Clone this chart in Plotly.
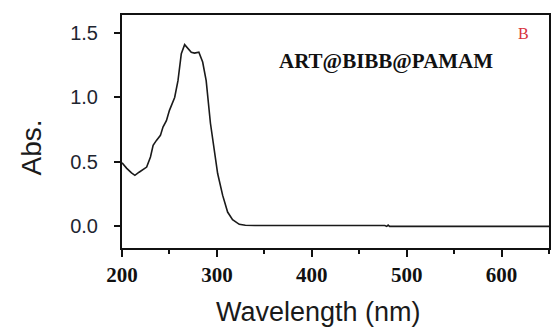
import plotly.graph_objects as go

wavelength = [200, 205, 210, 213.6, 218, 222.3, 226, 230, 232.8, 236.3, 240.5, 243.2,
              246.8, 250, 255.5, 259, 262.5, 266, 270, 273, 276.4, 281, 285, 288.7,
              293.2, 297.4, 300.8, 306.1, 311.3, 316.5, 323.6, 330, 340, 400, 470,
              477, 479, 480.5, 482, 484, 550, 650]
absorbance = [0.494, 0.45, 0.415, 0.396, 0.42, 0.44, 0.46, 0.538, 0.628, 0.667, 0.706, 0.77,
              0.82, 0.90, 1.0, 1.13, 1.34, 1.41, 1.38, 1.35, 1.344, 1.352, 1.275, 1.13,
              0.80, 0.59, 0.41, 0.24, 0.111, 0.052, 0.016, 0.008, 0.007, 0.007, 0.007,
              0.007, 0.0, 0.01, 0.0, 0.0, 0.0, 0.0]

x_ticks = [200, 300, 400, 500, 600]
y_ticks = [0.0, 0.5, 1.0, 1.5]
y_tick_labels = ["0.0", "0.5", "1.0", "1.5"]

fig = go.Figure()
fig.add_trace(go.Scatter(x=wavelength, y=absorbance, mode="lines",
                         line=dict(color="#1a1a1a", width=1.6), showlegend=False))

fig.update_layout(
    width=552, height=329,
    margin=dict(l=122, r=1, t=15, b=81),
    paper_bgcolor="white", plot_bgcolor="white",
    xaxis=dict(range=[200, 650], tickvals=x_ticks,
               ticktext=["<b>%d</b>" % v for v in x_ticks],
               ticks="outside", ticklen=7, tickwidth=1.5, tickcolor="#111",
               showline=True, linewidth=2, linecolor="#111", mirror=True,
               showgrid=False, zeroline=False, ticklabelstandoff=0,
               tickfont=dict(family="Liberation Serif", size=21, color="#111"),
               minor=dict(dtick=50, tick0=250, ticks="outside", ticklen=4,
                          tickwidth=1.5, tickcolor="#111", showgrid=False)),
    yaxis=dict(range=[-0.168, 1.64], tickvals=y_ticks, ticktext=y_tick_labels,
               ticks="outside", ticklen=6, tickwidth=1.5, tickcolor="#111",
               showline=True, linewidth=2, linecolor="#111", mirror=True,
               showgrid=False, zeroline=False, ticklabelstandoff=12,
               tickfont=dict(family="Liberation Sans", size=20, color="#1e2530")),
    annotations=[
        dict(text="<b>ART@BIBB@PAMAM</b>", x=387, y=61, showarrow=False,
             font=dict(family="Liberation Serif", size=21, color="#111")),
        dict(text="B", x=525, y=33, showarrow=False,
             font=dict(family="Liberation Serif", size=16, color="#d8323c")),
        dict(text="Wavelength (nm)", x=319, y=312, showarrow=False,
             font=dict(family="Liberation Sans", size=27, color="#1a1a1a")),
        dict(text="Abs.", x=31, y=147, showarrow=False, textangle=-90,
             font=dict(family="Liberation Sans", size=28, color="#1a1a1a")),
    ],
)

# convert pixel-positioned annotations into paper coordinates
plot_l, plot_r, plot_t, plot_b = 122, 551, 15, 248
new_ann = []
for a in fig.layout.annotations:
    px, py = a.x, a.y
    a.xref = "paper"
    a.yref = "paper"
    a.x = (px - plot_l) / (plot_r - plot_l)
    a.y = (plot_b - py) / (plot_b - plot_t)
    a.xanchor = "center"
    a.yanchor = "middle"
    new_ann.append(a)
fig.layout.annotations = new_ann

fig.write_html("out.html")
